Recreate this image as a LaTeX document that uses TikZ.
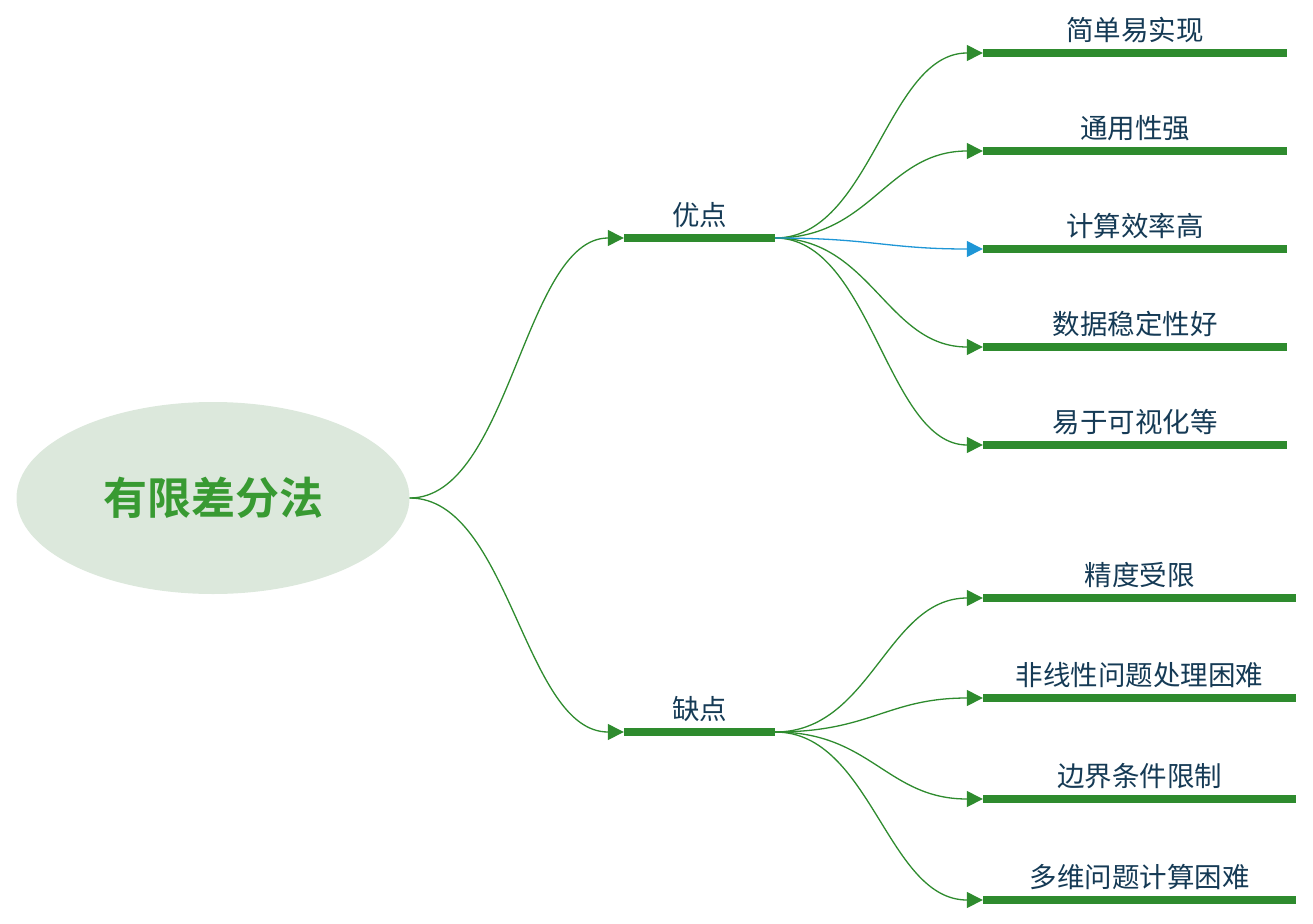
\documentclass[tikz,border=0pt]{standalone}
\usepackage{fontspec}
\newfontfamily\cjk{Noto Sans CJK SC}
\newfontfamily\cjkbold{Noto Sans CJK SC Bold}
\usetikzlibrary{shapes.geometric,arrows.meta}
\definecolor{barg}{HTML}{2E8B2E}
\definecolor{rootfill}{HTML}{DCE8DC}
\definecolor{roottext}{HTML}{389A32}
\definecolor{txt}{HTML}{153A55}
\definecolor{bluec}{HTML}{1E96D6}
\tikzset{
  rootnode/.style={ellipse,fill=rootfill,minimum width=393pt,minimum height=192pt,inner sep=0,font=\cjkbold\fontsize{44}{50}\selectfont,text=roottext},
  midbar/.style={rectangle,fill=barg,minimum width=151pt,minimum height=8pt,inner sep=0},
  topbar/.style={rectangle,fill=barg,minimum width=304pt,minimum height=8pt,inner sep=0},
  botbar/.style={rectangle,fill=barg,minimum width=313pt,minimum height=8pt,inner sep=0},
  lbl/.style={font=\cjk\fontsize{27.5}{32}\selectfont,text=txt,inner sep=0},
  conn/.style={draw=barg,line width=1.3pt,-{Triangle[length=16pt,width=16pt]}},
  bconn/.style={draw=bluec,line width=1.3pt,-{Triangle[length=16pt,width=16pt]}},
}
\begin{document}
\begin{tikzpicture}[x=1pt,y=-1pt]
\useasboundingbox (0,0) rectangle (1313,923);
\node[rootnode] (root) at (213,498) {有限差分法};
\node[midbar] (pro) at (699.5,238) {};
\node[midbar] (con) at (699.5,732) {};
\node[lbl] (prot) at (699.5,215) {优点};
\node[lbl] (cont) at (699.5,709) {缺点};
% top leaves
\node[topbar] (p1) at (1135,53) {};
\node[topbar] (p2) at (1135,151) {};
\node[topbar] (p3) at (1135,249) {};
\node[topbar] (p4) at (1135,347) {};
\node[topbar] (p5) at (1135,445) {};
\node[lbl] (p1t) at (1135,30) {简单易实现};
\node[lbl] (p2t) at (1135,128) {通用性强};
\node[lbl] (p3t) at (1135,226) {计算效率高};
\node[lbl] (p4t) at (1135,324) {数据稳定性好};
\node[lbl] (p5t) at (1135,422) {易于可视化等};
% bottom leaves
\node[botbar] (c1) at (1139.5,598) {};
\node[botbar] (c2) at (1139.5,698) {};
\node[botbar] (c3) at (1139.5,799) {};
\node[botbar] (c4) at (1139.5,900) {};
\node[lbl] (c1t) at (1139.5,575) {精度受限};
\node[lbl] (c2t) at (1139.5,675) {非线性问题处理困难};
\node[lbl] (c3t) at (1139.5,776) {边界条件限制};
\node[lbl] (c4t) at (1139.5,877) {多维问题计算困难};
% connectors
\draw[conn] (root.east) .. controls ++(100,0) and ([xshift=-100pt]pro.west) .. (pro.west);
\draw[conn] (root.east) .. controls ++(100,0) and ([xshift=-100pt]con.west) .. (con.west);
\foreach \t in {p1,p2,p4,p5}{
  \draw[conn] (pro.east) .. controls ++(96,0) and ([xshift=-96pt]\t.west) .. (\t.west);
}
\draw[bconn] (pro.east) .. controls ++(96,0) and ([xshift=-96pt]p3.west) .. (p3.west);
\foreach \t in {c1,c2,c3,c4}{
  \draw[conn] (con.east) .. controls ++(96,0) and ([xshift=-96pt]\t.west) .. (\t.west);
}
\end{tikzpicture}
\end{document}
